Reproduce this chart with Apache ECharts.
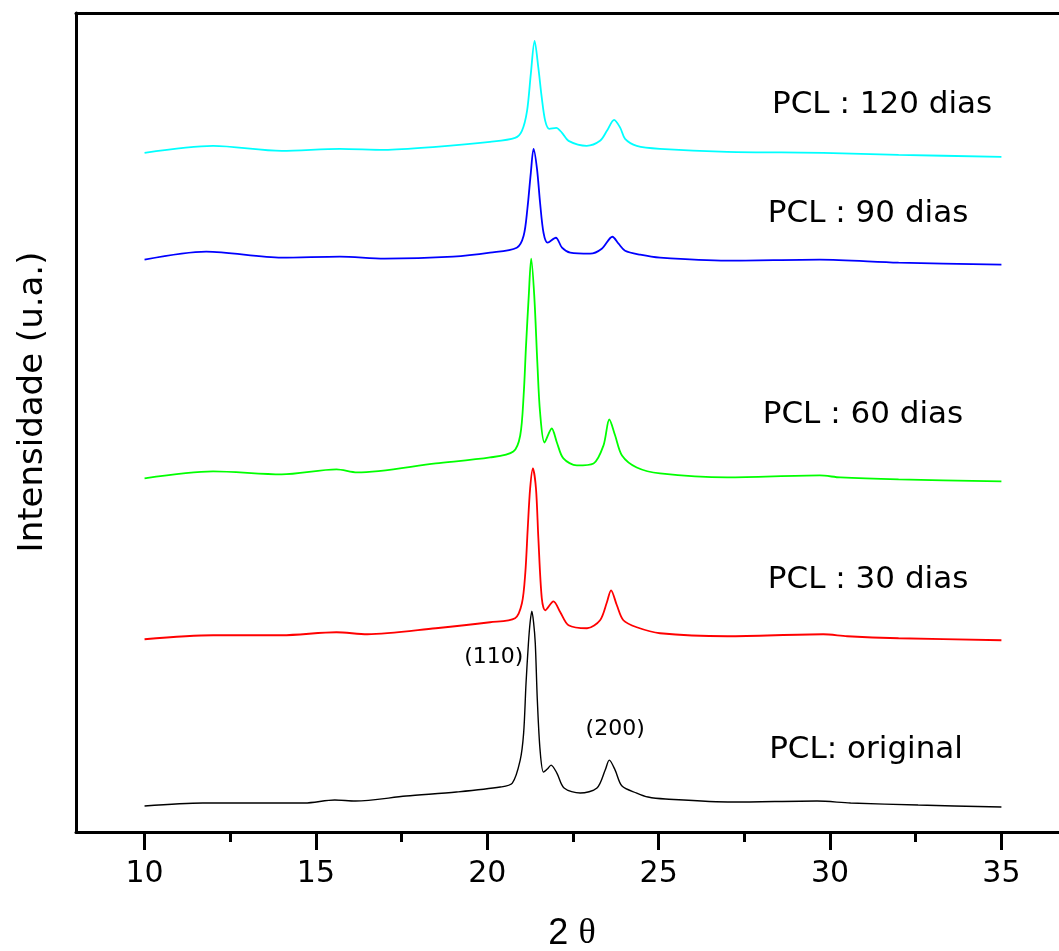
<!DOCTYPE html>
<html>
<head>
<meta charset="utf-8">
<script src="https://cdn.jsdelivr.net/npm/echarts@6/dist/echarts.min.js"></script>
<style>
html,body{margin:0;padding:0;background:#fff;}
#chart{width:1059px;height:951px;}
</style>
</head>
<body>
<div id="chart"></div>
<script>
// ---- data (2θ in degrees, intensity in arbitrary units, curves offset as in the figure) ----
const majorTicks = [10, 15, 20, 25, 30, 35];
const minorTicks = [12.5, 17.5, 22.5, 27.5, 32.5];

const original = [
  [10.0,26],[11.7,29],[13.0,29],[14.67,29],[15.55,32],[16.15,31],[17.63,36],[19.1,40],
  [20.38,45],[20.73,49],[20.96,72],[21.06,99],[21.13,149],[21.2,189],[21.25,210],[21.3,221],
  [21.35,210],[21.4,189],[21.46,132],[21.54,82],[21.64,60],[21.75,63],[21.86,67],[22.03,59],
  [22.24,44],[22.71,39],[23.2,44],[23.44,62],[23.56,72],[23.73,62],[23.93,46],[24.36,39],
  [24.69,35],[25.2,33],[27.16,30],[29.62,31],[30.6,29],[32.57,27],[35.0,25]
];
const dias30 = [
  [10.0,193],[12.0,197],[14.0,197],[15.6,200],[16.5,198],[18.5,204],[20.08,210],[20.81,214],
  [21.01,229],[21.11,260],[21.18,304],[21.25,344],[21.33,364],[21.42,344],[21.49,294],[21.59,234],
  [21.69,222],[21.93,231],[22.13,220],[22.37,207],[22.91,204],[23.29,212],[23.49,230],[23.61,242],
  [23.78,227],[23.97,212],[24.36,205],[25.04,199],[27.0,196],[29.8,198],[30.5,196],[32.0,194],[35.0,192]
];
const dias60 = [
  [10.0,354],[12.0,361],[14.0,358],[15.6,363],[16.2,360],[18.5,369],[20.08,375],[20.76,381],
  [20.96,397],[21.06,437],[21.13,487],[21.21,537],[21.28,574],[21.37,537],[21.46,470],[21.54,420],
  [21.67,390],[21.88,404],[22.03,390],[22.22,374],[22.61,367],[23.1,369],[23.39,387],[23.56,413],
  [23.73,397],[23.93,377],[24.36,365],[25.04,359],[27.0,355],[29.7,357],[30.3,355],[32.0,353],[35.0,351]
];
const dias90 = [
  [10.0,573],[11.8,581],[14.0,575],[15.7,576],[17.0,574],[19.0,576],[20.08,580],[20.86,585],
  [21.06,597],[21.17,624],[21.27,660],[21.35,684],[21.45,664],[21.54,630],[21.64,600],[21.76,590],
  [22.0,595],[22.18,585],[22.42,580],[23.0,579],[23.34,584],[23.65,596],[23.83,589],[24.02,582],
  [24.46,578],[25.04,575],[27.0,572],[29.7,573],[32.0,570],[35.0,568]
];
const dias120 = [
  [10.0,680],[12.0,687],[14.0,682],[15.7,684],[17.0,683],[18.5,686],[20.08,691],[20.81,695],
  [21.01,702],[21.16,722],[21.27,759],[21.38,792],[21.49,765],[21.59,735],[21.69,712],[21.81,704],
  [22.01,705],[22.18,700],[22.37,692],[22.9,687],[23.29,692],[23.49,702],[23.70,713],[23.88,705],
  [24.02,694],[24.36,687],[25.04,684],[27.0,681],[29.8,680],[32.0,678],[35.0,676]
];

const seriesNames = ['PCL: original', 'PCL : 30 dias', 'PCL : 60 dias', 'PCL : 90 dias', 'PCL : 120 dias'];
const seriesData = [original, dias30, dias60, dias90, dias120];
const seriesColors = ['#000000', '#ff0000', '#00ff00', '#0000ff', '#00ffff'];

// text annotations anchored in data space [2θ, intensity]
const annotTexts = ['PCL : 120 dias', 'PCL : 90 dias', 'PCL : 60 dias', 'PCL : 30 dias', 'PCL: original', '(110)', '(200)'];
const annotAnchors = [[31.52,728],[31.11,619],[30.96,418],[31.11,252],[31.05,82],[20.19,175],[23.73,103]];
const annotSizes = [31, 31, 31, 31, 31, 22, 22];

const chart = echarts.init(document.getElementById('chart'), null, {renderer: 'canvas'});

const option = {
  animation: false,
  backgroundColor: '#ffffff',
  grid: {left: 76, top: 13, right: 0, bottom: 119, show: false, containLabel: false},
  xAxis: [{
    type: 'value', min: 8, max: 36.68, position: 'bottom',
    axisLine: {show: true, onZero: false, lineStyle: {color: '#000', width: 3}},
    axisTick: {show: true, inside: false, length: 18, customValues: majorTicks, lineStyle: {color: '#000', width: 3}},
    axisLabel: {show: true, margin: 27, customValues: majorTicks, color: '#000', fontSize: 30, fontFamily: 'DejaVu Sans'},
    splitLine: {show: false}
  }, {
    type: 'value', min: 8, max: 36.68, position: 'bottom', gridIndex: 0,
    axisLine: {show: false},
    axisTick: {show: true, inside: false, length: 10, customValues: minorTicks, lineStyle: {color: '#000', width: 3}},
    axisLabel: {show: false},
    splitLine: {show: false}
  }, {
    type: 'value', min: 8, max: 36.68, position: 'top', gridIndex: 0,
    axisLine: {show: true, onZero: false, lineStyle: {color: '#000', width: 3}},
    axisTick: {show: false}, axisLabel: {show: false}, splitLine: {show: false}
  }],
  yAxis: {
    type: 'value', min: 0, max: 820,
    axisLine: {show: true, onZero: false, lineStyle: {color: '#000', width: 3}},
    axisTick: {show: false}, axisLabel: {show: false}, splitLine: {show: false}
  },
  series: seriesData.map((d, i) => ({
    name: seriesNames[i], type: 'line', xAxisIndex: 0, data: d,
    showSymbol: false, smooth: 0.3,
    lineStyle: {color: seriesColors[i], width: i === 0 ? 1.4 : 1.8},
    itemStyle: {color: seriesColors[i]}
  }))
};
chart.setOption(option);

const graphics = annotTexts.map((t, i) => {
  const p = chart.convertToPixel({xAxisIndex: 0, yAxisIndex: 0}, annotAnchors[i]);
  return {
    type: 'text', x: p[0], y: p[1],
    style: {text: t, fill: '#000', font: annotSizes[i] + 'px "DejaVu Sans"', textAlign: 'center', textVerticalAlign: 'middle'}
  };
});
graphics.push({
  type: 'text', x: 33, y: 402, rotation: Math.PI / 2,
  style: {text: 'Intensidade (u.a.)', fill: '#000', font: '34px "DejaVu Sans"', textAlign: 'center', textVerticalAlign: 'middle'}
});
graphics.push({
  type: 'text', x: 572, y: 934,
  style: {
    text: '{a|2 }{b|θ}', textAlign: 'center', textVerticalAlign: 'middle',
    rich: {
      a: {fontSize: 36, fontFamily: 'Liberation Sans', fill: '#000'},
      b: {fontSize: 36, fontFamily: 'Liberation Serif', fill: '#000'}
    }
  }
});
chart.setOption({graphic: graphics});
</script>
</body>
</html>
